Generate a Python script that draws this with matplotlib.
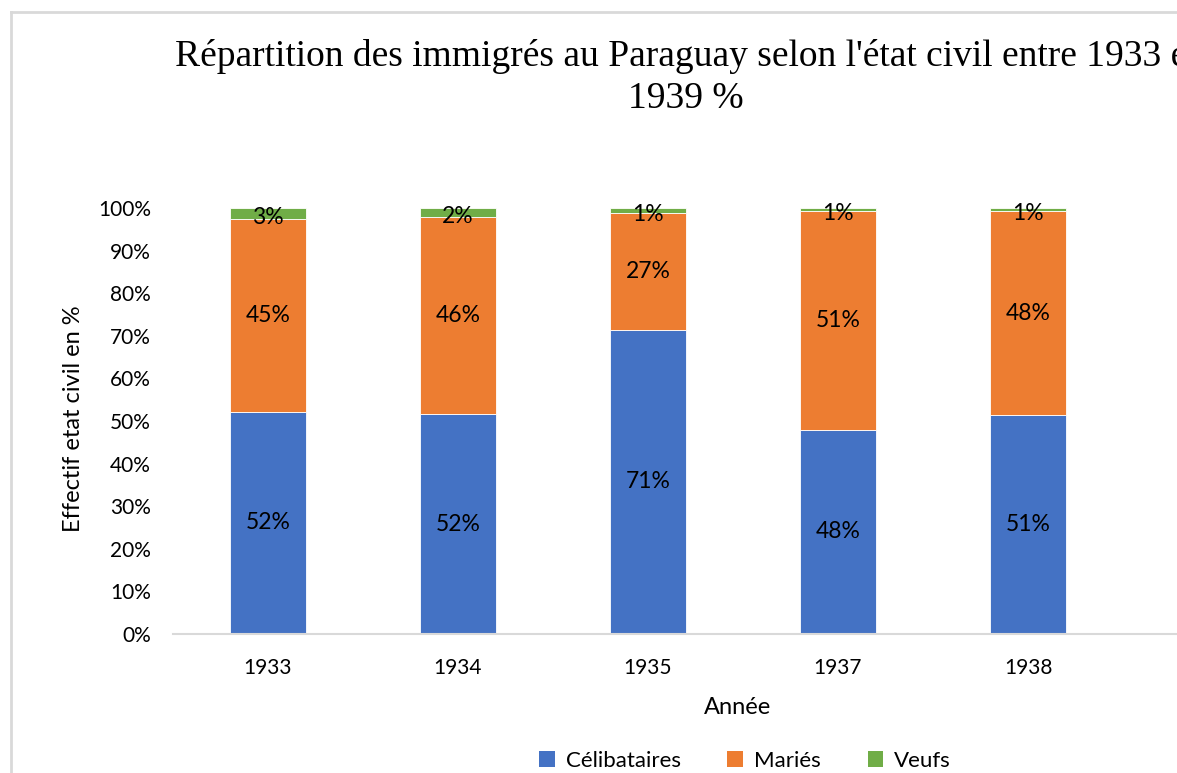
import matplotlib
matplotlib.use("Agg")
import matplotlib.pyplot as plt
from matplotlib.lines import Line2D
from matplotlib.patches import Patch

# Civil status of immigrants to Paraguay, share of each year's arrivals (%)
years = ["1933", "1934", "1935", "1937", "1938", ""]
celibataires = [52.2, 51.6, 71.4, 48.0, 51.4]
maries = [45.2, 46.2, 27.4, 51.4, 47.9]
veufs = [2.6, 2.2, 1.2, 0.6, 0.7]
series_names = ["Célibataires", "Mariés", "Veufs"]
colors = ["#4472C4", "#ED7D31", "#70AD47"]
y_ticks = list(range(0, 101, 10))

W, H, DPI = 1177, 773, 100
fig = plt.figure(figsize=(W / DPI, H / DPI), dpi=DPI)
fig.patch.set_facecolor("white")

sans = ["Lato", "DejaVu Sans"]
serif = ["Liberation Serif", "DejaVu Serif"]

# Plot area: six category slots, the last one empty and running past the right edge
left_px, right_px, top_px, bottom_px = 173, 1313, 208, 634
ax = fig.add_axes([left_px / W, (H - bottom_px) / H,
                   (right_px - left_px) / W, (bottom_px - top_px) / H])

x = list(range(len(celibataires)))
bar_w = 0.4
bottoms = [0.0] * len(x)
for vals, name, col in zip([celibataires, maries, veufs], series_names, colors):
    ax.bar(x, vals, bar_w, bottom=bottoms, color=col, label=name,
           edgecolor="white", linewidth=0.6)
    for xi, v, b in zip(x, vals, bottoms):
        ypos = b + v / 2 if name != "Veufs" else b + v / 2 - 1.0
        ax.text(xi, ypos, f"{v:.0f}%", ha="center", va="center",
                fontsize=16.5, family=sans, color="black")
    bottoms = [b + v for b, v in zip(bottoms, vals)]

ax.set_xlim(-0.5, len(years) - 0.5)
ax.set_ylim(0, 100)
ax.set_xticks(range(len(years)))
ax.set_xticklabels(years, family=sans, fontsize=15)
ax.set_yticks(y_ticks)
ax.set_yticklabels([f"{t}%" for t in y_ticks], family=sans, fontsize=15)
ax.tick_params(axis="both", length=0)
ax.tick_params(axis="y", pad=16)
ax.tick_params(axis="x", pad=17)
for side in ["top", "right", "left"]:
    ax.spines[side].set_visible(False)
ax.spines["bottom"].set_color("#D9D9D9")
ax.spines["bottom"].set_linewidth(1.5)
ax.set_facecolor("none")

# Axis titles
fig.text(73 / W, 1 - 419 / H, "Effectif etat civil en %", rotation=90,
         ha="center", va="center", fontsize=17, family=sans)
fig.text(738 / W, 1 - 707 / H, "Année", ha="center", va="center",
         fontsize=17, family=sans)

# Chart title (two lines, centred on the full chart frame)
fig.text(686 / W, 1 - 57 / H,
         "Répartition des immigrés au Paraguay selon l'état civil entre 1933 et",
         ha="center", va="center", fontsize=27, family=serif)
fig.text(686 / W, 1 - 99 / H, "1939 %", ha="center", va="center",
         fontsize=27, family=serif)

# Legend
handles = [Patch(facecolor=c, edgecolor="none") for c in colors]
fig.legend(handles, series_names, loc="center", bbox_to_anchor=(745 / W, 1 - 761 / H),
           ncol=3, frameon=False, prop={"family": sans, "size": 16},
           handlelength=0.7, handleheight=0.7, handletextpad=0.5,
           columnspacing=2.1)

# Chart frame border
fig.add_artist(Line2D([11 / W, 11 / W], [0, 1 - 12 / H], color="#D9D9D9",
                      linewidth=2, transform=fig.transFigure))
fig.add_artist(Line2D([11 / W, 1], [1 - 12 / H, 1 - 12 / H], color="#D9D9D9",
                      linewidth=2, transform=fig.transFigure))

fig.savefig("out.png", dpi=DPI, facecolor="white")
